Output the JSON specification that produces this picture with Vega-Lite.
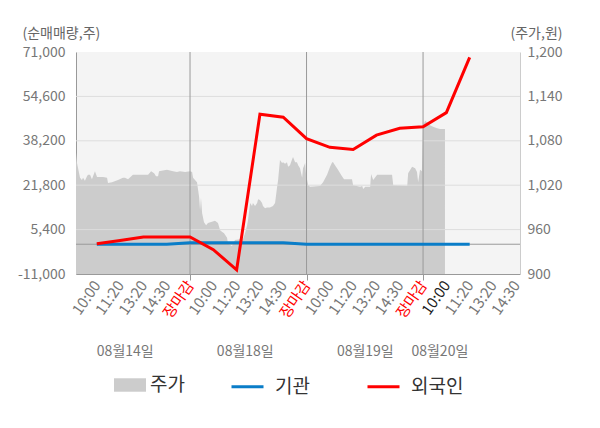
{
  "$schema": "https://vega.github.io/schema/vega-lite/v6.json",
  "width": 444,
  "height": 222,
  "autosize": {"type": "none"},
  "padding": {"left": 76, "top": 52, "right": 80, "bottom": 154},
  "config": {
    "font": "Noto Sans CJK KR",
    "view": {"fill": "#f4f4f4", "stroke": null},
    "axis": {"labelFontSize": 14, "labelColor": "#777777", "titleFontWeight": "normal", "labelOverlap": false}
  },
  "datasets": {
    "price": [
      {"t": -0.893, "price": 1064}, {"t": -0.85, "price": 1050}, {"t": -0.76, "price": 1036},
      {"t": -0.72, "price": 1030}, {"t": -0.64, "price": 1027}, {"t": -0.59, "price": 1030},
      {"t": -0.51, "price": 1026}, {"t": -0.42, "price": 1032}, {"t": -0.38, "price": 1034},
      {"t": -0.29, "price": 1034}, {"t": -0.21, "price": 1028}, {"t": -0.08, "price": 1039},
      {"t": 0.01, "price": 1031}, {"t": 0.27, "price": 1031}, {"t": 0.44, "price": 1030},
      {"t": 0.48, "price": 1023}, {"t": 0.65, "price": 1024}, {"t": 0.91, "price": 1027},
      {"t": 1.12, "price": 1030}, {"t": 1.21, "price": 1030}, {"t": 1.34, "price": 1028},
      {"t": 1.55, "price": 1034}, {"t": 2.2, "price": 1034}, {"t": 2.33, "price": 1039},
      {"t": 2.46, "price": 1036}, {"t": 2.54, "price": 1032}, {"t": 2.63, "price": 1032},
      {"t": 2.67, "price": 1039}, {"t": 3.01, "price": 1041}, {"t": 3.27, "price": 1039},
      {"t": 3.44, "price": 1038}, {"t": 3.57, "price": 1039}, {"t": 3.79, "price": 1038},
      {"t": 4.0, "price": 1039}, {"t": 4.09, "price": 1038}, {"t": 4.13, "price": 1030},
      {"t": 4.3, "price": 1024}, {"t": 4.39, "price": 1004}, {"t": 4.43, "price": 986},
      {"t": 4.47, "price": 1003}, {"t": 4.52, "price": 982}, {"t": 4.6, "price": 970},
      {"t": 4.69, "price": 966}, {"t": 4.77, "price": 969}, {"t": 5.07, "price": 972},
      {"t": 5.2, "price": 969}, {"t": 5.29, "price": 959}, {"t": 5.37, "price": 957},
      {"t": 5.46, "price": 955}, {"t": 5.59, "price": 949}, {"t": 5.63, "price": 941},
      {"t": 5.8, "price": 938}, {"t": 5.93, "price": 946}, {"t": 6.15, "price": 947},
      {"t": 6.27, "price": 947}, {"t": 6.36, "price": 955}, {"t": 6.45, "price": 966},
      {"t": 6.49, "price": 973}, {"t": 6.58, "price": 996}, {"t": 6.66, "price": 992},
      {"t": 6.7, "price": 996}, {"t": 6.79, "price": 992}, {"t": 6.88, "price": 996},
      {"t": 6.92, "price": 1001}, {"t": 7.0, "price": 1000}, {"t": 7.09, "price": 996},
      {"t": 7.13, "price": 992}, {"t": 7.22, "price": 989}, {"t": 7.3, "price": 990},
      {"t": 7.43, "price": 990}, {"t": 7.56, "price": 992}, {"t": 7.65, "price": 996},
      {"t": 7.73, "price": 1016}, {"t": 7.78, "price": 1027}, {"t": 7.86, "price": 1054},
      {"t": 7.95, "price": 1050}, {"t": 7.99, "price": 1051}, {"t": 8.08, "price": 1049},
      {"t": 8.16, "price": 1051}, {"t": 8.21, "price": 1045}, {"t": 8.29, "price": 1047},
      {"t": 8.38, "price": 1055}, {"t": 8.42, "price": 1058}, {"t": 8.51, "price": 1051},
      {"t": 8.59, "price": 1051}, {"t": 8.64, "price": 1047}, {"t": 8.72, "price": 1043},
      {"t": 8.81, "price": 1030}, {"t": 8.85, "price": 1043}, {"t": 8.94, "price": 1050},
      {"t": 8.98, "price": 1034}, {"t": 9.07, "price": 1020}, {"t": 9.15, "price": 1018},
      {"t": 9.58, "price": 1019}, {"t": 9.71, "price": 1024}, {"t": 9.88, "price": 1034},
      {"t": 10.01, "price": 1045}, {"t": 10.1, "price": 1051}, {"t": 10.14, "price": 1051},
      {"t": 10.22, "price": 1047}, {"t": 10.35, "price": 1041}, {"t": 10.52, "price": 1032},
      {"t": 10.61, "price": 1028}, {"t": 10.95, "price": 1028}, {"t": 11.0, "price": 1020},
      {"t": 11.3, "price": 1018}, {"t": 11.39, "price": 1019}, {"t": 11.43, "price": 1015},
      {"t": 11.52, "price": 1018}, {"t": 11.73, "price": 1018}, {"t": 11.77, "price": 1035},
      {"t": 11.86, "price": 1027}, {"t": 12.03, "price": 1034}, {"t": 12.67, "price": 1034},
      {"t": 12.72, "price": 1020}, {"t": 13.32, "price": 1019}, {"t": 13.36, "price": 1036},
      {"t": 13.53, "price": 1045}, {"t": 13.66, "price": 1043}, {"t": 13.74, "price": 1038},
      {"t": 13.79, "price": 1024}, {"t": 13.87, "price": 1041}, {"t": 13.95, "price": 1039},
      {"t": 14.0, "price": 1101}, {"t": 14.09, "price": 1107}, {"t": 14.21, "price": 1104},
      {"t": 14.3, "price": 1101}, {"t": 14.43, "price": 1099}, {"t": 14.6, "price": 1097},
      {"t": 14.73, "price": 1096}, {"t": 14.94, "price": 1096}
    ],
    "flow": [
      {"t": 0, "investor": "기관", "volume": -50}, {"t": 1, "investor": "기관", "volume": -50},
      {"t": 2, "investor": "기관", "volume": -50}, {"t": 3, "investor": "기관", "volume": -50},
      {"t": 4, "investor": "기관", "volume": 550}, {"t": 5, "investor": "기관", "volume": 550},
      {"t": 6, "investor": "기관", "volume": 550}, {"t": 7, "investor": "기관", "volume": 550},
      {"t": 8, "investor": "기관", "volume": 550}, {"t": 9, "investor": "기관", "volume": -50},
      {"t": 10, "investor": "기관", "volume": -50}, {"t": 11, "investor": "기관", "volume": -50},
      {"t": 12, "investor": "기관", "volume": -50}, {"t": 13, "investor": "기관", "volume": -50},
      {"t": 14, "investor": "기관", "volume": -50}, {"t": 15, "investor": "기관", "volume": -50},
      {"t": 16, "investor": "기관", "volume": -50},
      {"t": 0, "investor": "외국인", "volume": 200}, {"t": 1, "investor": "외국인", "volume": 1400},
      {"t": 2, "investor": "외국인", "volume": 2700}, {"t": 3, "investor": "외국인", "volume": 2700},
      {"t": 4, "investor": "외국인", "volume": 2700}, {"t": 5, "investor": "외국인", "volume": -2000},
      {"t": 6, "investor": "외국인", "volume": -9500}, {"t": 7, "investor": "외국인", "volume": 48000},
      {"t": 8, "investor": "외국인", "volume": 46900}, {"t": 9, "investor": "외국인", "volume": 39000},
      {"t": 10, "investor": "외국인", "volume": 35800}, {"t": 11, "investor": "외국인", "volume": 35000},
      {"t": 12, "investor": "외국인", "volume": 40300}, {"t": 13, "investor": "외국인", "volume": 42800},
      {"t": 14, "investor": "외국인", "volume": 43400}, {"t": 15, "investor": "외국인", "volume": 48600},
      {"t": 16, "investor": "외국인", "volume": 69000}
    ]
  },
  "layer": [
    {
      "data": {"name": "price"},
      "mark": {"type": "area", "interpolate": "linear"},
      "encoding": {
        "x": {
          "field": "t", "type": "quantitative",
          "scale": {"domain": [-0.893, 18.16], "nice": false, "zero": false},
          "axis": {
            "orient": "bottom", "title": null, "grid": false,
            "values": [0, 1, 2, 3, 4, 5, 6, 7, 8, 9, 10, 11, 12, 13, 14, 15, 16, 17, 18],
            "labelExpr": "['10:00', '11:20', '13:20', '14:30', '장마감'][datum.value % 5]",
            "labelAngle": -55, "labelFontSize": 15,
            "labelColor": {"expr": "datum.value % 5 == 4 ? '#ff0000' : (datum.value == 15 ? '#222222' : '#777777')"},
            "domainColor": "#999999",
            "tickColor": {"expr": "datum.value % 5 == 4 ? '#999999' : 'transparent'"},
            "tickSize": 6
          }
        },
        "y": {
          "field": "price", "type": "quantitative",
          "scale": {"domain": [900, 1200], "nice": false, "zero": false},
          "axis": {
            "orient": "right", "grid": false, "ticks": false,
            "values": [900, 960, 1020, 1080, 1140, 1200], "format": ",d",
            "domainColor": "#cccccc", "labelPadding": 7,
            "title": "(주가,원)", "titleAngle": 0, "titleAlign": "left",
            "titleBaseline": "alphabetic", "titleX": -10, "titleY": -15,
            "titleFontSize": 14, "titleColor": "#666666"
          }
        },
        "y2": {"datum": 900},
        "fill": {
          "datum": "주가",
          "scale": {"range": ["#cccccc"]},
          "legend": {
            "orient": "none", "legendX": 38, "legendY": 317, "title": null,
            "symbolType": "M-1,-0.42H1V0.42H-1Z", "symbolSize": 1024,
            "symbolStrokeWidth": 0, "labelFontSize": 19, "labelColor": "#333333",
            "labelOffset": 4
          }
        }
      }
    },
    {
      "layer": [
        {
          "data": {"values": [{"volume": 54600}, {"volume": 38200}, {"volume": 21800}, {"volume": 5400}]},
          "mark": {"type": "rule", "color": "#dddddd", "strokeWidth": 1},
          "encoding": {
            "y": {
              "field": "volume", "type": "quantitative",
              "scale": {"domain": [-11000, 71000], "nice": false, "zero": false},
              "axis": {
                "orient": "left", "grid": false, "ticks": false,
                "values": [-11000, 5400, 21800, 38200, 54600, 71000],
                "labelExpr": "replace(format(datum.value, ','), '\u2212', '-')",
                "domainColor": "#999999", "labelPadding": 11,
                "title": "(순매매량,주)", "titleAngle": 0, "titleAlign": "left",
                "titleBaseline": "alphabetic", "titleX": -54, "titleY": -15,
                "titleFontSize": 14, "titleColor": "#666666"
              }
            }
          }
        },
        {
          "data": {"values": [{"volume": 0}]},
          "mark": {"type": "rule", "color": "#999999", "strokeWidth": 1},
          "encoding": {
            "y": {
              "field": "volume", "type": "quantitative",
              "scale": {"domain": [-11000, 71000], "nice": false, "zero": false},
              "axis": {
                "orient": "left", "grid": false, "ticks": false,
                "values": [-11000, 5400, 21800, 38200, 54600, 71000],
                "labelExpr": "replace(format(datum.value, ','), '\u2212', '-')",
                "domainColor": "#999999", "labelPadding": 11,
                "title": "(순매매량,주)", "titleAngle": 0, "titleAlign": "left",
                "titleBaseline": "alphabetic", "titleX": -54, "titleY": -15,
                "titleFontSize": 14, "titleColor": "#666666"
              }
            }
          }
        },
        {
          "data": {"values": [{"t": 4}, {"t": 9}, {"t": 14}]},
          "mark": {"type": "rule", "color": "#999999", "strokeWidth": 1},
          "encoding": {
            "x": {
              "field": "t", "type": "quantitative",
              "scale": {"domain": [-0.893, 18.16], "nice": false, "zero": false},
              "axis": {
                "orient": "bottom", "title": null, "grid": false, "domain": false,
                "ticks": false, "tickSize": 0, "offset": 70, "labelPadding": 0,
                "values": [1.2, 6.35, 11.5, 14.7], "labelAngle": 0, "labelBaseline": "top",
                "labelExpr": "datum.value < 3 ? '08월14일' : (datum.value < 8 ? '08월18일' : (datum.value < 13 ? '08월19일' : '08월20일'))",
                "labelColor": "#777777"
              }
            }
          }
        },
        {
          "data": {"name": "flow"},
          "mark": {"type": "line", "strokeWidth": 3},
          "encoding": {
            "x": {
              "field": "t", "type": "quantitative",
              "scale": {"domain": [-0.893, 18.16], "nice": false, "zero": false},
              "axis": {
                "orient": "bottom", "title": null, "grid": false, "domain": false,
                "ticks": false, "tickSize": 0, "offset": 70, "labelPadding": 0,
                "values": [1.2, 6.35, 11.5, 14.7], "labelAngle": 0, "labelBaseline": "top",
                "labelExpr": "datum.value < 3 ? '08월14일' : (datum.value < 8 ? '08월18일' : (datum.value < 13 ? '08월19일' : '08월20일'))",
                "labelColor": "#777777"
              }
            },
            "y": {
              "field": "volume", "type": "quantitative",
              "scale": {"domain": [-11000, 71000], "nice": false, "zero": false},
              "axis": {
                "orient": "left", "grid": false, "ticks": false,
                "values": [-11000, 5400, 21800, 38200, 54600, 71000],
                "labelExpr": "replace(format(datum.value, ','), '\u2212', '-')",
                "domainColor": "#999999", "labelPadding": 11,
                "title": "(순매매량,주)", "titleAngle": 0, "titleAlign": "left",
                "titleBaseline": "alphabetic", "titleX": -54, "titleY": -15,
                "titleFontSize": 14, "titleColor": "#666666"
              }
            },
            "stroke": {
              "field": "investor", "type": "nominal",
              "scale": {"domain": ["기관", "외국인"], "range": ["#0a7dc8", "#ff0000"]},
              "legend": {
                "orient": "none", "legendX": 154, "legendY": 317, "title": null,
                "direction": "horizontal", "symbolType": "stroke", "symbolSize": 1024,
                "symbolStrokeWidth": 3, "labelFontSize": 19, "labelColor": "#333333",
                "labelOffset": 10, "columnPadding": 51
              }
            }
          }
        }
      ]
    }
  ],
  "resolve": {"scale": {"y": "independent", "x": "independent"}, "axis": {"x": "independent"}}
}
